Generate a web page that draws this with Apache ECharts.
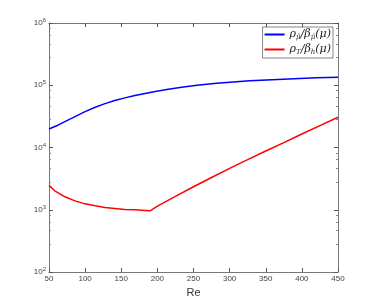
<!DOCTYPE html>
<html><head><meta charset="utf-8">
<script src="https://cdn.jsdelivr.net/npm/echarts@6/dist/echarts.min.js"></script>
<style>html,body{margin:0;padding:0;background:#fff}#c{width:374px;height:306px}</style>
</head><body><div id="c"></div>
<script>
var reBlue = [50, 63, 72, 86, 100, 114, 127.5, 141, 155, 169, 183, 197, 215, 236, 258, 282, 305, 328, 351, 374, 397, 420, 450];
var valBlue = [19860, 23030, 26010, 31330, 37700, 44360, 50700, 56700, 62700, 68300, 73500, 79200, 86000, 93500, 100500, 107500, 113200, 117800, 121800, 125400, 128600, 131500, 135000];
var reRed = [50, 58, 72, 86, 100, 114, 127.5, 141, 155, 169, 183, 190, 200, 225, 250, 275, 300, 325, 350, 375, 400, 425, 450];
var valRed = [2460, 2014, 1614, 1390, 1244, 1155, 1088, 1049, 1011, 996, 975, 960, 1143, 1640, 2340, 3300, 4630, 6400, 8790, 12000, 16500, 22500, 30600];
var yTickExp = [2, 3, 4, 5, 6];

function pairs(xs, ys){ return xs.map(function(x,i){ return [x, ys[i]]; }); }
var axisCol = '#555';
var chart = echarts.init(document.getElementById('c'), null, {renderer:'canvas'});
var supRich = {
  b: {fontSize: 8, color: '#444', fontFamily: 'Liberation Sans'},
  s: {fontSize: 6, color: '#444', fontFamily: 'Liberation Sans', verticalAlign: 'top', padding:[0,0,5,0]}
};
var legRich = {
  i: {fontSize: 11, fontStyle: 'italic', fontFamily: 'DejaVu Serif', color: '#222'},
  s: {fontSize: 7, fontStyle: 'italic', fontFamily: 'DejaVu Serif', color: '#222', padding:[6,0,0,0]}
};
var lineIcon = 'path://M0,0H20V2H0Z';
chart.setOption({
  animation: false,
  grid: {left: 49, right: 36, top: 23, bottom: 34, containLabel: false},
  legend: {
    right: 41, top: 27, orient: 'vertical', align: 'left',
    backgroundColor: '#fff', borderColor: '#333', borderWidth: 0.6,
    padding: [2, 2, 2, 2], itemGap: 3, itemWidth: 20, itemHeight: 2,
    data: [{name: 'blue', icon: lineIcon}, {name: 'red', icon: lineIcon}],
    formatter: function(n){
      return n === 'blue' ? '{i|ρ}{s|μ̄}{i|/β}{s|μ̄}{i|(μ)}' : '{i|ρ}{s|T}{i|/β}{s|h}{i|(μ)}';
    },
    textStyle: {rich: legRich}
  },
  xAxis: [{
    type: 'value', min: 50, max: 450, interval: 50,
    name: 'Re', nameLocation: 'middle', nameGap: 12,
    nameTextStyle: {fontSize: 11, color: '#333', fontFamily: 'Liberation Sans'},
    axisLine: {lineStyle: {color: axisCol, width: 0.8}},
    axisTick: {inside: true, length: 4, lineStyle: {color: axisCol}},
    axisLabel: {fontSize: 8, color: '#444', margin: 3, fontFamily: 'Liberation Sans'},
    splitLine: {show: false}
  }, {
    type: 'value', min: 50, max: 450, interval: 50, position: 'top',
    axisLine: {show: true, lineStyle: {color: axisCol, width: 0.8}},
    axisTick: {inside: true, length: 4, lineStyle: {color: axisCol}},
    axisLabel: {show: false}, splitLine: {show: false}
  }],
  yAxis: [{
    type: 'log', logBase: 10, min: 100, max: 1e6,
    axisLine: {show: true, lineStyle: {color: axisCol, width: 0.8}},
    axisTick: {inside: true, length: 4, lineStyle: {color: axisCol}},
    minorTick: {show: true, splitNumber: 5, length: 2, lineStyle: {color: '#888'}},
    axisLabel: {margin: 3, formatter: function(v){
      var e = Math.round(Math.log10(v));
      return '{b|10}{s|' + e + '}';
    }, rich: supRich},
    splitLine: {show: false}
  }, {
    type: 'log', logBase: 10, min: 100, max: 1e6, position: 'right',
    axisLine: {show: true, lineStyle: {color: axisCol, width: 0.8}},
    axisTick: {inside: true, length: 4, lineStyle: {color: axisCol}},
    minorTick: {show: true, splitNumber: 5, length: 2, lineStyle: {color: '#888'}},
    axisLabel: {show: false}, splitLine: {show: false}
  }],
  series: [{
    name: 'blue', type: 'line', symbol: 'none', smooth: false,
    data: pairs(reBlue, valBlue),
    lineStyle: {color: '#0000ff', width: 1.5}, itemStyle: {color: '#0000ff'}
  }, {
    name: 'red', type: 'line', symbol: 'none', smooth: false,
    data: pairs(reRed, valRed),
    lineStyle: {color: '#ff0000', width: 1.5}, itemStyle: {color: '#ff0000'}
  }]
});
</script></body></html>
